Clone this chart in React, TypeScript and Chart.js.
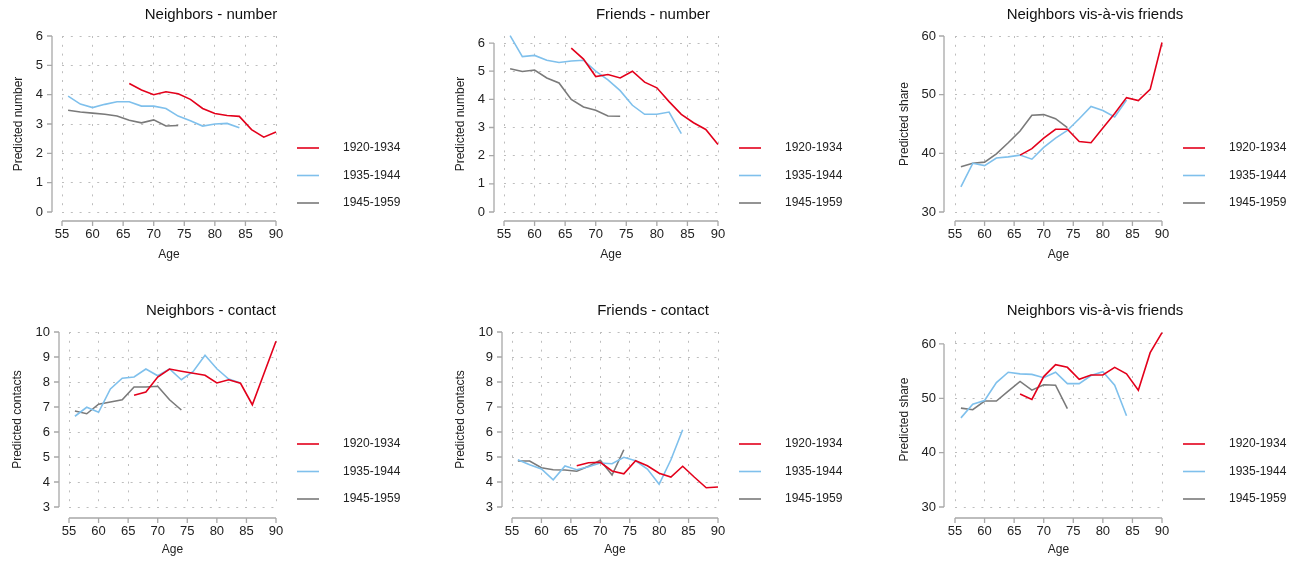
import React, { useEffect, useRef } from 'react';
import { Chart, registerables } from 'chart.js';

Chart.register(...registerables);

const FONT = "'Liberation Sans', Arial, Helvetica, sans-serif";

const AGES = [56, 58, 60, 62, 64, 66, 68, 70, 72, 74, 76, 78, 80, 82, 84, 86, 88, 90];
const COHORTS = ['1920-1934', '1935-1944', '1945-1959'];
const COLORS = ['#e3001b', '#7fc0ec', '#7a7a7a'];

const X_TICKS = [55, 60, 65, 70, 75, 80, 85, 90];

const _ = null;

// Neighbors - number
const NN_1920 = [_, _, _, _, _, 4.38, 4.16, 4.0, 4.1, 4.03, 3.84, 3.53, 3.36, 3.29, 3.26, 2.81, 2.55, 2.73];
const NN_1935 = [3.95, 3.68, 3.56, 3.67, 3.76, 3.76, 3.61, 3.61, 3.53, 3.27, 3.11, 2.93, 3.0, 3.02, 2.87, _, _, _];
const NN_1945 = [3.47, 3.41, 3.37, 3.33, 3.27, 3.13, 3.04, 3.14, 2.93, 2.95, _, _, _, _, _, _, _, _];

// Friends - number
const FN_1920 = [_, _, _, _, _, 5.82, 5.43, 4.81, 4.88, 4.76, 5.0, 4.61, 4.41, 3.92, 3.47, 3.17, 2.93, 2.4];
const FN_1935 = [6.26, 5.52, 5.56, 5.39, 5.31, 5.36, 5.39, 5.0, 4.69, 4.31, 3.79, 3.47, 3.47, 3.55, 2.78, _, _, _];
const FN_1945 = [5.09, 4.99, 5.04, 4.76, 4.58, 4.0, 3.73, 3.61, 3.41, 3.4, _, _, _, _, _, _, _, _];

// Neighbors vis-a-vis friends (number)
const SN_1920 = [_, _, _, _, _, 39.7, 40.8, 42.6, 44.1, 44.1, 42.0, 41.8, 44.3, 46.8, 49.5, 49.0, 50.9, 58.9];
const SN_1935 = [34.3, 38.3, 37.9, 39.2, 39.4, 39.7, 39.0, 41.0, 42.6, 43.9, 45.9, 48.0, 47.3, 46.2, 49.1, _, _, _];
const SN_1945 = [37.7, 38.3, 38.5, 39.9, 41.8, 43.8, 46.5, 46.6, 45.9, 44.4, _, _, _, _, _, _, _, _];

// Neighbors - contact
const NC_1920 = [_, _, _, _, _, 7.47, 7.6, 8.2, 8.52, 8.43, 8.35, 8.27, 7.96, 8.09, 7.95, 7.09, 8.36, 9.63];
const NC_1935 = [6.63, 6.99, 6.79, 7.72, 8.15, 8.2, 8.52, 8.25, 8.52, 8.09, 8.42, 9.07, 8.53, 8.12, 7.96, _, _, _];
const NC_1945 = [6.84, 6.73, 7.11, 7.2, 7.29, 7.8, 7.8, 7.83, 7.29, 6.88, _, _, _, _, _, _, _, _];

// Friends - contact
const FC_1920 = [_, _, _, _, _, 4.65, 4.77, 4.79, 4.44, 4.33, 4.85, 4.65, 4.35, 4.2, 4.63, 4.19, 3.77, 3.8];
const FC_1935 = [4.89, 4.69, 4.52, 4.09, 4.64, 4.49, 4.61, 4.76, 4.73, 4.99, 4.85, 4.52, 3.91, 4.89, 6.09, _, _, _];
const FC_1945 = [4.84, 4.84, 4.57, 4.49, 4.48, 4.43, 4.63, 4.87, 4.28, 5.29, _, _, _, _, _, _, _, _];

// Neighbors vis-a-vis friends (contact)
const SC_1920 = [_, _, _, _, _, 50.8, 49.8, 54.0, 56.2, 55.7, 53.5, 54.3, 54.3, 55.7, 54.5, 51.5, 58.4, 62.1];
const SC_1935 = [46.4, 48.9, 49.6, 52.9, 54.8, 54.5, 54.4, 53.8, 54.8, 52.7, 52.7, 54.2, 54.9, 52.4, 46.8, _, _, _];
const SC_1945 = [48.2, 47.9, 49.5, 49.5, 51.3, 53.1, 51.5, 52.5, 52.4, 48.1, _, _, _, _, _, _, _, _];

type Row = {
  top: number; H: number; titleTop: number; titleBottom: number;
  xH: number; xTickPad: number; xTitleBottom: number; gapX: number;
};
const ROW1: Row = { top: 0, H: 270, titleTop: 6, titleBottom: 12, xH: 58, xTickPad: 15, xTitleBottom: 7.8, gapX: 9 };
const ROW2: Row = { top: 290, H: 272, titleTop: 12, titleBottom: 12, xH: 55, xTickPad: 17, xTitleBottom: 4.8, gapX: 11 };

type Col = { left: number; W: number; padL: number; padR: number; rW: number; gapY: number };
const COL1: Col = { left: 0, W: 431, padL: 0, padR: 9, rW: 146, gapY: 10 };
const COL2: Col = { left: 440, W: 431, padL: 0, padR: 5, rW: 148, gapY: 10 };
const COL3: Col = { left: 880, W: 413, padL: 17, padR: 0, rW: 131, gapY: 11 };

type PanelDef = {
  title: string; yTitle: string; series: (number | null)[][];
  yMin: number; yMax: number; yStep: number; yW: number; yTitlePad: number;
  row: Row; col: Col;
};

const PANELS: PanelDef[] = [
  { title: 'Neighbors - number', yTitle: 'Predicted number', series: [NN_1920, NN_1935, NN_1945], yMin: 0, yMax: 6, yStep: 1, yW: 62, yTitlePad: 11.8, row: ROW1, col: COL1 },
  { title: 'Friends - number', yTitle: 'Predicted number', series: [FN_1920, FN_1935, FN_1945], yMin: 0, yMax: 6.25, yStep: 1, yW: 64, yTitlePad: 13.8, row: ROW1, col: COL2 },
  { title: 'Neighbors vis-à-vis friends', yTitle: 'Predicted share', series: [SN_1920, SN_1935, SN_1945], yMin: 30, yMax: 60, yStep: 10, yW: 58, yTitlePad: 0, row: ROW1, col: COL3 },
  { title: 'Neighbors - contact', yTitle: 'Predicted contacts', series: [NC_1920, NC_1935, NC_1945], yMin: 3, yMax: 10, yStep: 1, yW: 69, yTitlePad: 10.8, row: ROW2, col: COL1 },
  { title: 'Friends - contact', yTitle: 'Predicted contacts', series: [FC_1920, FC_1935, FC_1945], yMin: 3, yMax: 10, yStep: 1, yW: 72, yTitlePad: 13.8, row: ROW2, col: COL2 },
  { title: 'Neighbors vis-à-vis friends', yTitle: 'Predicted share', series: [SC_1920, SC_1935, SC_1945], yMin: 30, yMax: 62.2, yStep: 10, yW: 58, yTitlePad: 0, row: ROW2, col: COL3 },
];

const axesPlugin = {
  id: 'stataAxes',
  afterDraw(chart: any, _args: any, opts: any) {
    const { ctx, chartArea, scales } = chart;
    const xs = scales.x;
    const ys = scales.y;
    ctx.save();
    ctx.strokeStyle = '#a8a8a8';
    ctx.lineWidth = 1.3;
    ctx.beginPath();
    const ax = chartArea.left - opts.gapY;
    const yp = ys.ticks.map((t: any) => ys.getPixelForValue(t.value));
    ctx.moveTo(ax, Math.min(...yp));
    ctx.lineTo(ax, Math.max(...yp));
    yp.forEach((p: number) => { ctx.moveTo(ax - 5, p); ctx.lineTo(ax, p); });
    const ay = chartArea.bottom + opts.gapX;
    const xp = xs.ticks.map((t: any) => xs.getPixelForValue(t.value));
    ctx.moveTo(Math.min(...xp), ay);
    ctx.lineTo(Math.max(...xp), ay);
    xp.forEach((p: number) => { ctx.moveTo(p, ay); ctx.lineTo(p, ay + 5); });
    ctx.stroke();
    ctx.restore();
  },
};

const legendPlugin = {
  id: 'sideLegend',
  afterDraw(chart: any) {
    const { ctx, chartArea } = chart;
    const offsets = [112, 139.5, 167];
    ctx.save();
    ctx.font = `12px ${FONT}`;
    ctx.textBaseline = 'middle';
    ctx.textAlign = 'left';
    chart.data.datasets.forEach((ds: any, i: number) => {
      const y = chartArea.top + offsets[i];
      const x0 = chartArea.right + 21;
      ctx.strokeStyle = ds.borderColor;
      ctx.lineWidth = 1.6;
      ctx.beginPath();
      ctx.moveTo(x0, y);
      ctx.lineTo(x0 + 22, y);
      ctx.stroke();
      ctx.fillStyle = '#222';
      ctx.fillText(ds.label, chartArea.right + 67, y);
    });
    ctx.restore();
  },
};

function Panel({ def }: { def: PanelDef }) {
  const ref = useRef<HTMLCanvasElement | null>(null);
  const { row, col } = def;
  useEffect(() => {
    if (!ref.current) return;
    const datasets = def.series.map((vals, i) => ({
      label: COHORTS[i],
      data: AGES.map((a, j) => (vals[j] == null ? null : { x: a, y: vals[j] as number })).filter((p) => p !== null),
      borderColor: COLORS[i],
      backgroundColor: COLORS[i],
      borderWidth: 1.6,
      pointRadius: 0,
      tension: 0,
      fill: false,
      clip: false as any,
      xAxisID: 'x',
      yAxisID: 'y',
    }));
    const gridStyle = { color: '#bdbdbd', lineWidth: 1, drawTicks: false };
    const chart = new Chart(ref.current, {
      type: 'line',
      data: { datasets: datasets as any },
      plugins: [axesPlugin as any, legendPlugin as any],
      options: {
        responsive: false,
        maintainAspectRatio: false,
        animation: false,
        devicePixelRatio: 1,
        layout: { padding: { left: col.padL, right: col.padR, top: 0, bottom: 0 } },
        plugins: {
          legend: { display: false },
          tooltip: { enabled: false },
          title: {
            display: true,
            text: def.title,
            color: '#111',
            font: { family: FONT, size: 15, weight: 'normal' },
            padding: { top: row.titleTop, bottom: row.titleBottom },
          },
          stataAxes: { gapX: row.gapX, gapY: col.gapY },
        } as any,
        scales: {
          x: {
            type: 'linear',
            position: 'bottom',
            min: 55,
            max: 90,
            afterBuildTicks: (s: any) => { s.ticks = X_TICKS.map((v) => ({ value: v })); },
            ticks: { padding: row.xTickPad, color: '#222', font: { family: FONT, size: 13 }, maxRotation: 0, autoSkip: false },
            grid: gridStyle,
            border: { display: false, dash: [2, 6.8] },
            title: { display: true, text: 'Age', color: '#222', font: { family: FONT, size: 12 }, padding: { top: 0, bottom: row.xTitleBottom } },
            afterFit: (s: any) => { s.height = row.xH; },
          },
          y: {
            type: 'linear',
            position: 'left',
            min: def.yMin,
            max: def.yMax,
            ticks: { stepSize: def.yStep, includeBounds: false, padding: 19, color: '#222', font: { family: FONT, size: 13 } },
            grid: gridStyle,
            border: { display: false, dash: [2, 6.8] },
            title: { display: true, text: def.yTitle, color: '#222', font: { family: FONT, size: 12 }, padding: { top: def.yTitlePad, bottom: 0 } },
            afterFit: (s: any) => { s.width = def.yW; },
          },
          pad: {
            type: 'linear',
            position: 'right',
            display: true,
            ticks: { display: false },
            grid: { display: false },
            border: { display: false },
            afterFit: (s: any) => { s.width = col.rW; },
          },
        } as any,
      },
    });
    return () => chart.destroy();
  }, []);
  return (
    <canvas
      ref={ref}
      width={col.W}
      height={row.H}
      style={{ position: 'absolute', left: col.left, top: row.top, width: col.W, height: row.H, display: 'block' }}
    />
  );
}

export default function App() {
  return (
    <div style={{ position: 'absolute', left: 0, top: 0, width: 1293, height: 562, background: '#fff', overflow: 'hidden' }}>
      {PANELS.map((p, i) => (
        <Panel key={i} def={p} />
      ))}
    </div>
  );
}
